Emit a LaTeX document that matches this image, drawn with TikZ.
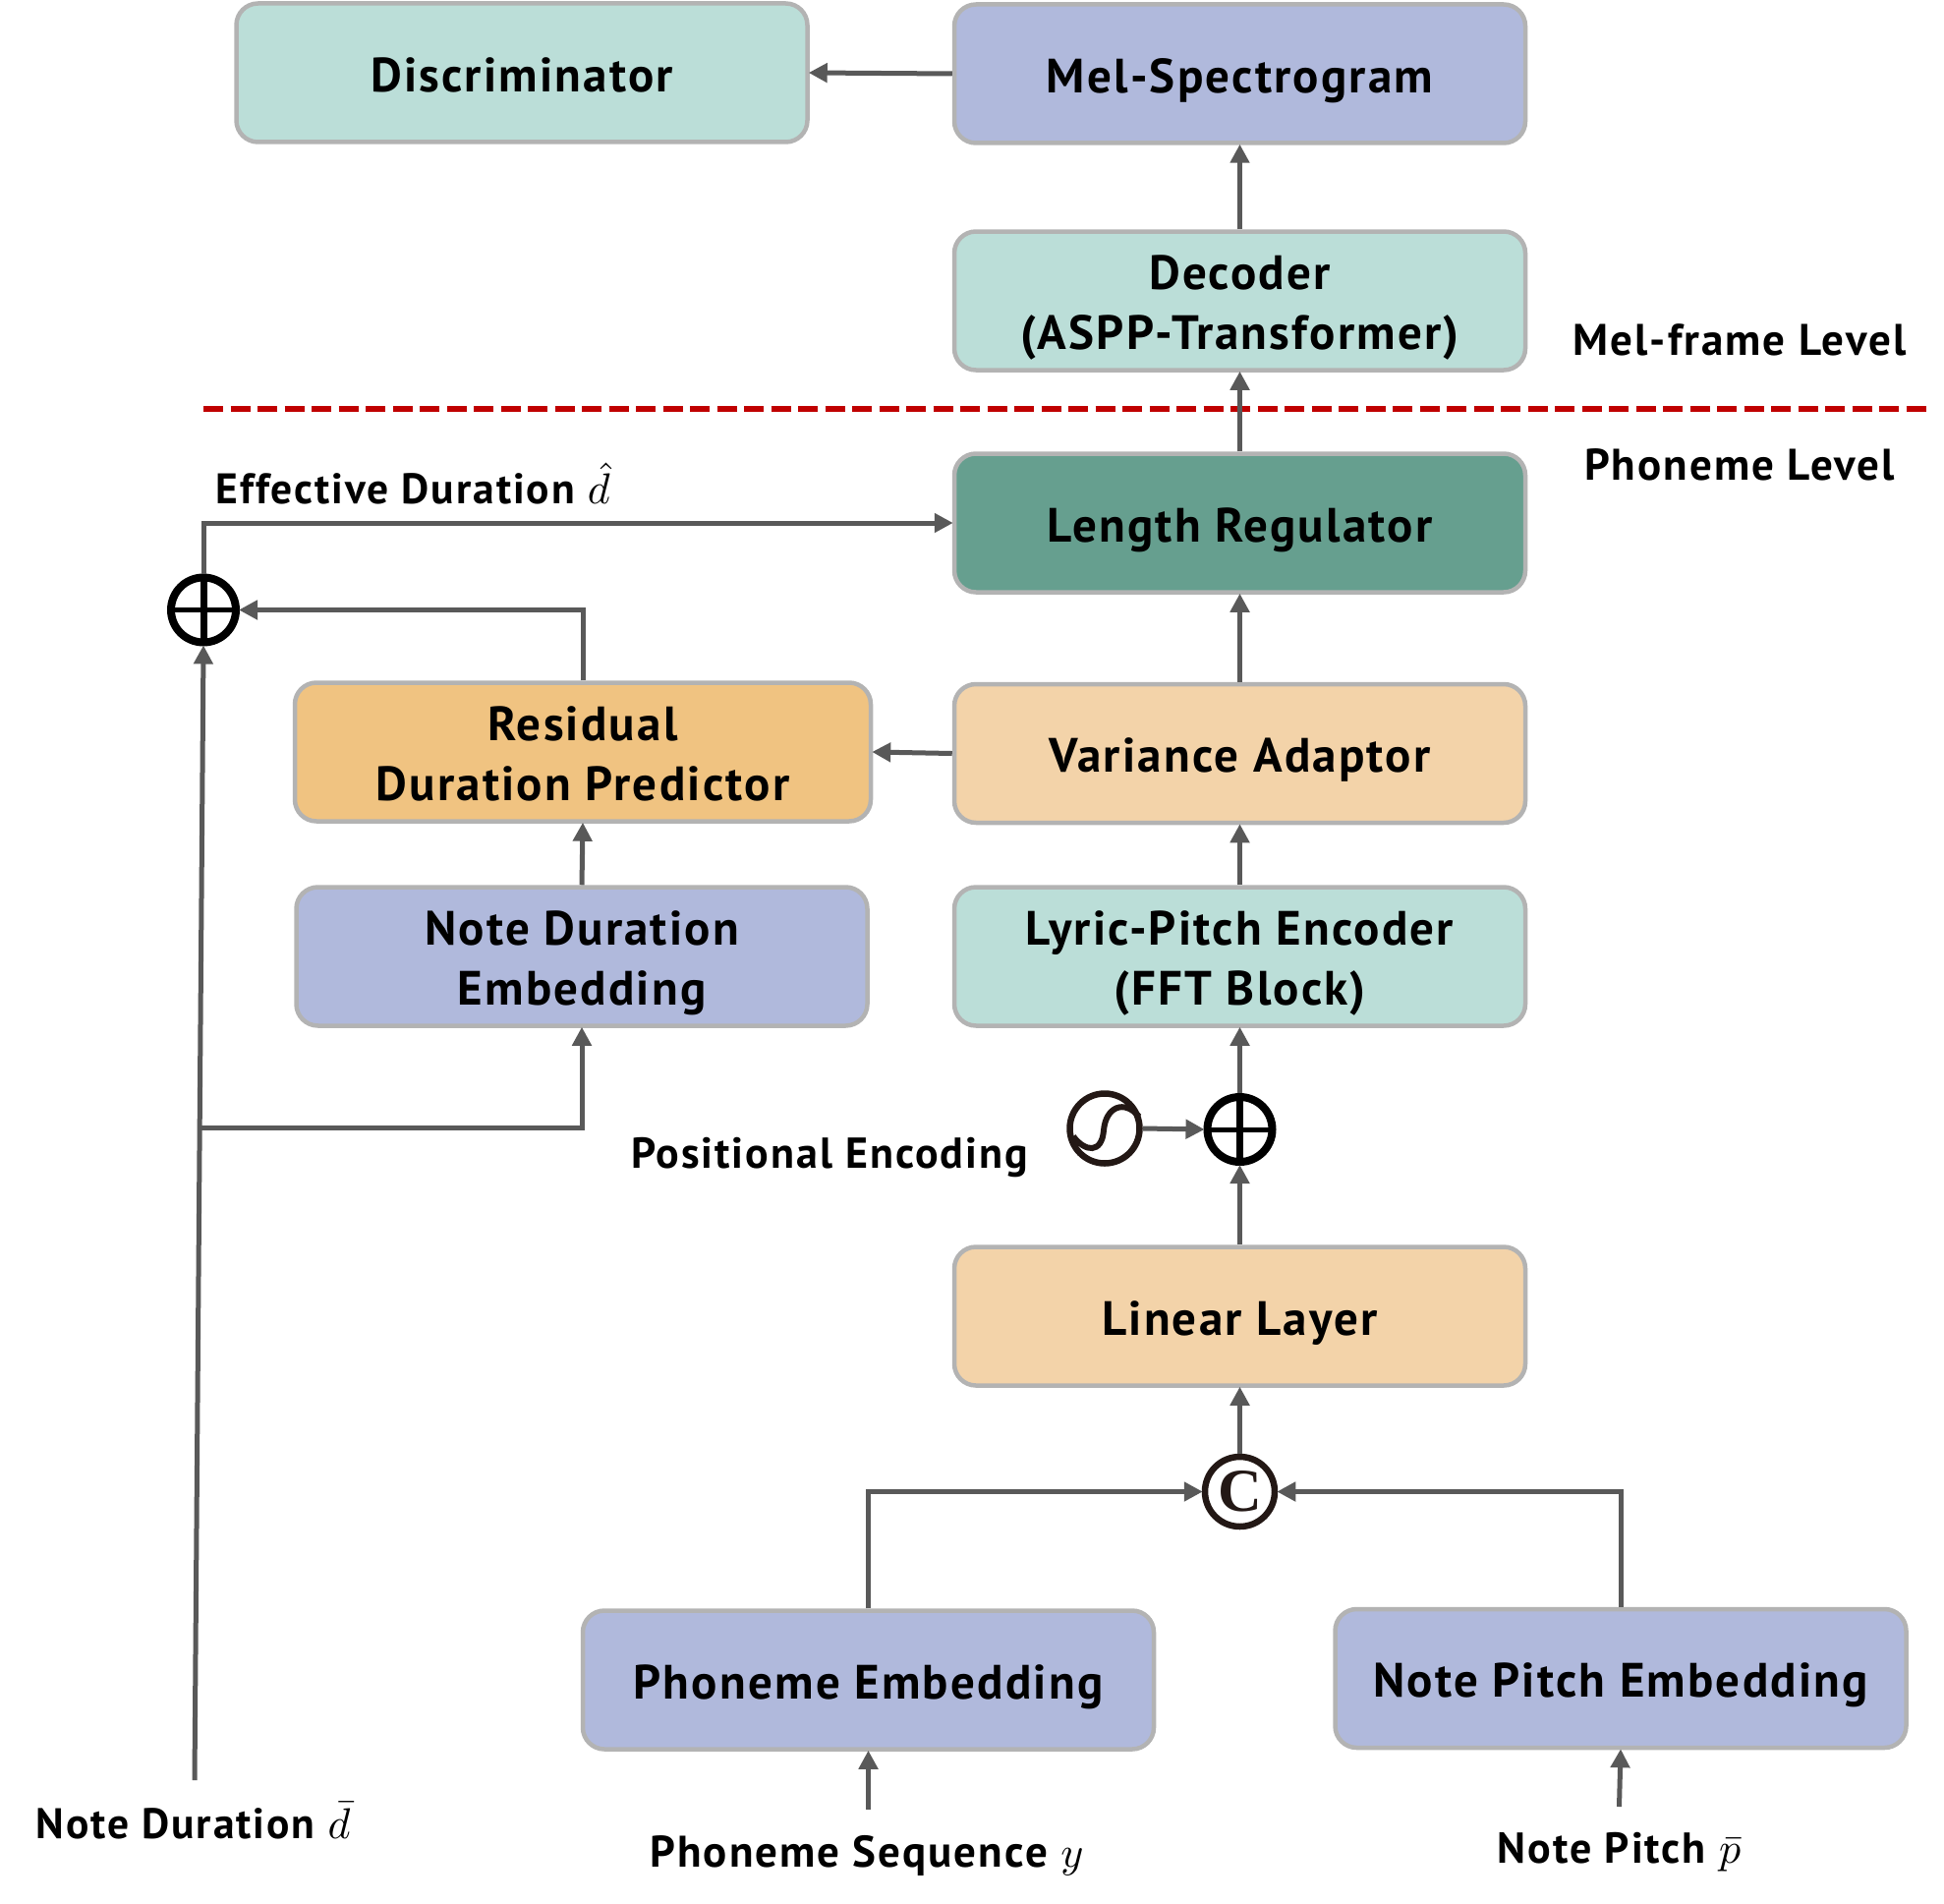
\documentclass[tikz,border=0pt]{standalone}
\usepackage{graphicx}
\usepackage[no-math]{fontspec}
\setmainfont[LetterSpace=4.5]{PT Sans}
\newfontfamily\cfont{Liberation Serif}
\usetikzlibrary{arrows.meta,positioning}
\definecolor{teal1}{HTML}{BBDED8}
\definecolor{purp1}{HTML}{B0B9DC}
\definecolor{green1}{HTML}{669F8F}
\definecolor{sand1}{HTML}{F3D3A9}
\definecolor{orange1}{HTML}{F0C381}
\definecolor{edge1}{HTML}{B3B3B3}
\definecolor{wire1}{HTML}{595959}
\definecolor{red1}{HTML}{C00000}
\definecolor{ink1}{HTML}{231815}
\newcommand\mth[1]{\scalebox{4.4}{\normalsize$#1$}}
\newcommand\blocktxt[1]{\raisebox{-13.5pt}[0pt][0pt]{\setlength\tabcolsep{0pt}\begin{tabular}{c}#1\end{tabular}}}
\tikzset{
  blockbox/.style={draw=edge1,line width=4.5pt,rounded corners=22pt,minimum width=581pt,minimum height=141pt,inner sep=0pt,font=\fontsize{49}{61}\selectfont\bfseries},
  lab/.style={inner sep=0pt,font=\fontsize{45}{52}\selectfont\bfseries,anchor=center},
  smalllab/.style={lab,font=\fontsize{43.5}{52}\selectfont\bfseries},
  wire/.style={draw=wire1,line width=5pt,-{Triangle[length=19pt,width=19pt]},shorten >=-1pt},
  plusnode/.style={circle,draw=black,line width=8pt,minimum size=66pt,inner sep=0pt,path picture={
    \draw[black,line width=7pt] (path picture bounding box.north) -- (path picture bounding box.south);
    \draw[black,line width=5pt] (path picture bounding box.west) -- (path picture bounding box.east);}},
  inknode/.style={circle,draw=ink1,line width=6.5pt,minimum size=71pt,inner sep=0pt},
}
\begin{document}
\begin{tikzpicture}[x=1pt,y=-1pt]
\useasboundingbox (0,0) rectangle (1978,1937);
\coordinate (dl) at (207,416);
\coordinate (dr) at (1960,416);
\draw[red1,line width=6.5pt,dash pattern=on 20pt off 7.5pt] (dl) -- (dr);
\node[blockbox,fill=teal1] (disc) at (531,74) {\blocktxt{Discriminator}};
\node[blockbox,fill=purp1] (mel) at (1261.5,75) {\blocktxt{Mel-Spectrogram}};
\node[blockbox,fill=teal1] (dec) at (1261.5,306) {\blocktxt{Decoder\\(ASPP-Transformer)}};
\node[blockbox,fill=green1] (len) at (1261.5,532) {\blocktxt{Length Regulator}};
\node[blockbox,fill=sand1] (var) at (1261.5,766.5) {\blocktxt{Variance Adaptor}};
\node[blockbox,fill=orange1,minimum width=586pt] (res) at (593,765) {\blocktxt{Residual\\Duration Predictor}};
\node[blockbox,fill=purp1] (nde) at (592,973) {\blocktxt{Note Duration\\Embedding}};
\node[blockbox,fill=teal1] (lyr) at (1261.5,973) {\blocktxt{Lyric-Pitch Encoder\\(FFT Block)}};
\node[blockbox,fill=sand1] (lin) at (1261.5,1339) {\blocktxt{Linear Layer}};
\node[blockbox,fill=purp1] (phe) at (883.5,1709) {\blocktxt{Phoneme Embedding}};
\node[blockbox,fill=purp1] (npe) at (1649,1707.5) {\blocktxt{Note Pitch Embedding}};
\node[plusnode] (p1) at (207,620.5) {};
\node[plusnode] (p2) at (1261.5,1149) {};
\node[inknode] (w) at (1124,1148) {};
\draw[ink1,line width=6pt] ([shift={(-32,8)}]w.center) .. controls ([shift={(-20,24)}]w.center) and ([shift={(-3,26)}]w.center) .. ([shift={(-1,2)}]w.center) .. controls ([shift={(1,-22)}]w.center) and ([shift={(20,-30)}]w.center) .. ([shift={(35,-12)}]w.center);
\node[inknode,text=ink1,font=\fontsize{62}{62}\selectfont\cfont\bfseries] (c) at (1261.5,1517.5) {C};
\node[lab] (mfl) at (1770,345.5) {Mel-frame Level};
\node[lab] (pl) at (1770,473) {Phoneme Level};
\node[smalllab,anchor=west] (ed) at (219.5,492) {Effective Duration \mth{\hat{d}}};
\node[lab,font=\fontsize{44}{52}\selectfont\bfseries] (pe) at (844,1178) {Positional Encoding};
\node[smalllab,anchor=west] (nd) at (36.5,1852) {Note Duration \mth{\bar{d}}};
\node[lab] (ps) at (882,1887.5) {Phoneme Sequence \mth{y}};
\node[lab,font=\fontsize{44}{52}\selectfont\bfseries] (np) at (1647.5,1884.5) {Note Pitch \mth{\bar{p}}};
\coordinate (ndstart) at (198,1811);
\coordinate (psstart) at (883.5,1840.5);
\coordinate (npstart) at (1647.5,1838);
\coordinate (branch) at (204.5,1147);
\draw[wire] (mel.west) -- (disc.east);
\draw[wire] (dec.north) -- (mel.south);
\draw[wire] (len.north) -- (dec.south);
\draw[wire] (var.north) -- (len.south);
\draw[wire] (var.west) -- (res.east);
\draw[wire] (nde.north) -- (res.south);
\draw[wire] (lyr.north) -- (var.south);
\draw[wire] (p2.north) -- (lyr.south);
\draw[wire] (lin.north) -- (p2.south);
\draw[wire] (c.north) -- (lin.south);
\draw[wire] (w.east) -- (p2.west);
\draw[wire] (phe.north) |- (c.west);
\draw[wire] (npe.north) |- (c.east);
\draw[wire] (psstart) -- (phe.south);
\draw[wire] (npstart) -- (npe.south);
\draw[wire] (ndstart) -- (p1.south);
\draw[wire] (branch) -| (nde.south);
\draw[wire] (res.north) |- (p1.east);
\draw[wire] (p1.north) |- (len.west);
\end{tikzpicture}
\end{document}
